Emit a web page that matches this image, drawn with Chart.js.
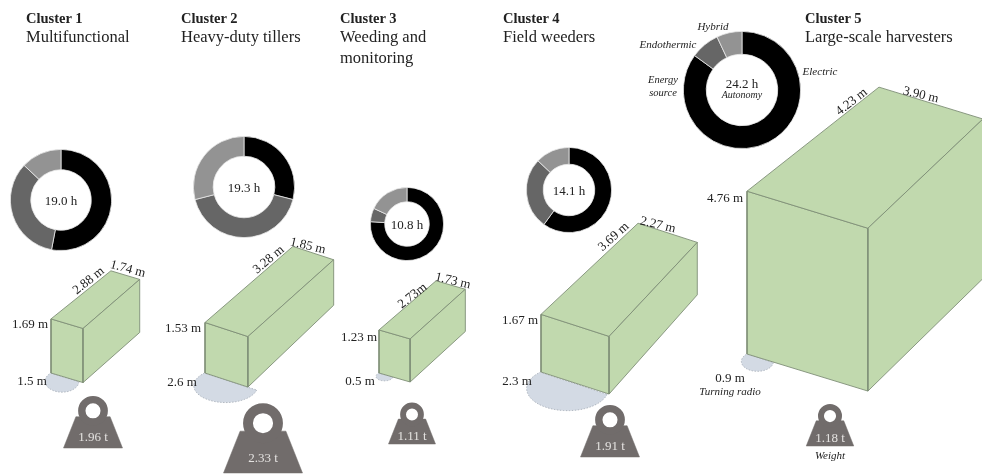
<!DOCTYPE html>
<html><head><meta charset="utf-8">
<script src="https://cdn.jsdelivr.net/npm/chart.js@4"></script>
<style>
html,body{margin:0;padding:0;background:#fff;width:982px;height:474px;overflow:hidden}
#stage{position:relative;width:982px;height:474px}
#stage canvas{display:block}
.d{position:absolute}
.t{position:absolute;white-space:nowrap;font-family:"Liberation Serif",serif;color:#222;transform:translate(-50%,-50%);line-height:1}
.l{transform:translate(0,-50%)}
</style></head><body><div id="stage"><canvas id="main" width="982" height="474"></canvas></div>
<script>
const clusterNames=['Cluster 1','Cluster 2','Cluster 3','Cluster 4','Cluster 5'];
const clusterTypes=[['Multifunctional'],['Heavy-duty tillers'],['Weeding and','monitoring'],['Field weeders'],['Large-scale harvesters']];
const heightM=[1.69,1.53,1.23,1.67,4.76];
const lengthM=[2.88,3.28,2.73,3.69,4.23];
const widthM=[1.74,1.85,1.73,2.27,3.90];
const turningM=[1.5,2.6,0.5,2.3,0.9];
const weightT=[1.96,2.33,1.11,1.91,1.18];
const autonomyH=[19.0,19.3,10.8,14.1,24.2];
const energySources=['Electric','Endothermic','Hybrid'];
const electricShare=[53,29,76,60,85];
const endothermicShare=[34,42,6,27,8];
const hybridShare=[13,29,18,13,7];
const lengthLabels=['2.88 m','3.28 m','2.73m','3.69 m','4.23 m'];

// page layout of each cluster (pixels), kept apart from the values
const layout=[
 {base:[51,373],hz:32,u:[18.4,5.5],v:[20.8,-16.7],far:[.9,.98],sec:[11.3,7.3],donut:[61,200,51,30.5],w:[93,448,59],
  title:26,lab:{len:[88,280,-39],wid:[128,268,15],h:[30,323],r:[32,380]}},
 {base:[205,373],hz:33,u:[23.2,7.6],v:[26.8,-23.2],far:[.95,.9],sec:[12.3,6.5],donut:[244,187,51,31],w:[263,473,79],
  title:181,lab:{len:[268,259,-40],wid:[308,245,13],h:[183,327],r:[182,381]}},
 {base:[379,373],hz:35,u:[18,5.2],v:[20.9,-18],far:[.94,.98],sec:[17,9],donut:[407,224,37,22.5],w:[412,444,47],
  title:340,lab:{len:[412,295,-38],wid:[453,280,13],h:[359,336],r:[360,380]}},
 {base:[541,372],hz:34.5,u:[30,9.7],v:[26.3,-24.7],far:[.87,.91],sec:[17.8,9.6],donut:[569,190,43,26],w:[610,457,59],
  title:503,lab:{len:[613,236,-42],wid:[658,224,13],h:[520,319],r:[517,380]}},
 {base:[747,354],hz:34.2,u:[31,9.5],v:[31.2,-24.6],far:[.86,.98],sec:[17.8,11],donut:[742,90,59,36],w:[830,446,47.5],
  title:805,lab:{len:[851,101,-38],wid:[921,94,13],h:[725,197],r:[730,377]}}
];
const BOX='#c1d9ae',EDGE='#7f8f77',SECTOR='#d3dae4',SECTOR_EDGE='#a3abb5',IRON='#716c6b';
const SHADES=['#000000','#666666','#939393'];

const stage=document.getElementById('stage');
function text(s,x,y,size,o={}){
  const e=document.createElement('div');
  e.className='t'+(o.left?' l':'');
  e.textContent=s;
  e.style.left=x+'px';e.style.top=y+'px';e.style.fontSize=size+'px';
  if(o.bold)e.style.fontWeight='bold';
  if(o.italic)e.style.fontStyle='italic';
  if(o.color)e.style.color=o.color;
  if(o.rot!==undefined)e.style.transform=`translate(-50%,-50%) rotate(${o.rot}deg)`;
  stage.appendChild(e);
}
function poly(pts,fillC,lineC,lw,extra={}){
  const d=pts.map(p=>({x:p[0],y:p[1]}));
  return Object.assign({data:d,showLine:true,tension:0,pointRadius:0,borderColor:lineC,borderWidth:lw,
    backgroundColor:fillC,fill:fillC?'shape':false,clip:false},extra);
}
const add=(p,q,k=1)=>[p[0]+q[0]*k,p[1]+q[1]*k];
const sets=[];
heightM.forEach((h,i)=>{
  const L=layout[i],w=widthM[i],l=lengthM[i];
  const up=[0,-L.hz*h];
  const B=L.base,F=add(B,L.u,w),A=add(B,up),T=add(F,up);
  const AB=add(A,L.v,l),TB=add(AB,L.u,w*L.far[0]),FB=add(TB,up,-L.far[1]);
  // turning-radius ellipse on the ground, cut off by the front edge of the box
  const rx=turningM[i]*L.sec[0],ry=turningM[i]*L.sec[1];
  const c=[B[0]+.65*rx,B[1]+.75*ry],arc=[];
  for(let a=-60;a<=240;a+=3){const th=a*Math.PI/180;
    const p=[c[0]+rx*Math.cos(th),c[1]+ry*Math.sin(th)];
    if((p[0]-B[0])*L.u[1]-(p[1]-B[1])*L.u[0]<0)arc.push(p);}
  arc.push(arc[0]);
  sets.push(poly(arc,SECTOR,SECTOR_EDGE,.8,{borderDash:[1.5,1.5],order:50}));
  sets.push(poly([B,F,T,A,B],BOX,EDGE,.9,{order:40}));
  sets.push(poly([A,T,TB,AB,A],BOX,EDGE,.9,{order:39}));
  sets.push(poly([F,FB,TB,T,F],BOX,EDGE,.9,{order:38}));
  // kettle weight
  const [wx,wy,S]=L.w;
  sets.push(poly([[wx-S/2,wy],[wx+S/2,wy],[wx+.29*S,wy-.53*S],[wx-.29*S,wy-.53*S],[wx-S/2,wy]],IRON,IRON,.5,{order:20}));
  sets.push({data:[{x:wx,y:wy-.63*S}],showLine:false,pointRadius:.19*S,pointHoverRadius:.19*S,
    pointBorderWidth:.125*S,pointBorderColor:IRON,pointBackgroundColor:'#fff',pointStyle:'circle',clip:false,order:10});
  // texts
  const lab=L.lab;
  text(lengthLabels[i],lab.len[0],lab.len[1],13,{rot:lab.len[2]});
  text(w.toFixed(2)+' m',lab.wid[0],lab.wid[1],13,{rot:lab.wid[2]});
  text(h.toFixed(2)+' m',lab.h[0],lab.h[1],13);
  text(turningM[i].toFixed(1)+' m',lab.r[0],lab.r[1],13);
  text(weightT[i].toFixed(2)+' t',wx,wy-.2*S,13,{color:'#e4e2e0'});
  text(clusterNames[i],L.title,18,14.5,{bold:true,left:true});
  clusterTypes[i].forEach((s,k)=>text(s,L.title,37+k*21,16.5,{left:true}));
  // doughnut
  const [cx,cy,R,r0]=L.donut;
  const box=document.createElement('div');box.className='d';
  box.style.cssText=`left:${cx-R}px;top:${cy-R}px;width:${2*R}px;height:${2*R}px`;
  const cv=document.createElement('canvas');cv.width=2*R;cv.height=2*R;box.appendChild(cv);stage.appendChild(box);
  new Chart(cv,{type:'doughnut',data:{labels:energySources,datasets:[{
    data:[electricShare[i],endothermicShare[i],hybridShare[i]],backgroundColor:SHADES,borderColor:'#e8e8e8',borderWidth:.8}]},
    options:{responsive:false,animation:false,cutout:(r0/R*100)+'%',layout:{padding:0},
      plugins:{legend:{display:false},tooltip:{enabled:false}}}});
  text(autonomyH[i].toFixed(1)+' h',cx,i===4?cy-7:cy,13);
});
text('Autonomy',742,95,10,{italic:true});
text('Hybrid',713,26,11,{italic:true});
text('Endothermic',668,44,11,{italic:true});
text('Energy',663,80,10.5,{italic:true});
text('source',663,93,10.5,{italic:true});
text('Electric',820,71,11,{italic:true});
text('Turning radio',730,391,11,{italic:true});
text('Weight',830,455,11,{italic:true});

new Chart(document.getElementById('main'),{type:'scatter',data:{datasets:sets},options:{
  responsive:false,animation:false,layout:{padding:0,autoPadding:false},
  scales:{x:{type:'linear',min:0,max:982,display:false},y:{type:'linear',min:0,max:474,reverse:true,display:false}},
  plugins:{legend:{display:false},tooltip:{enabled:false},filler:{drawTime:'beforeDatasetDraw'}}}});
</script></body></html>
